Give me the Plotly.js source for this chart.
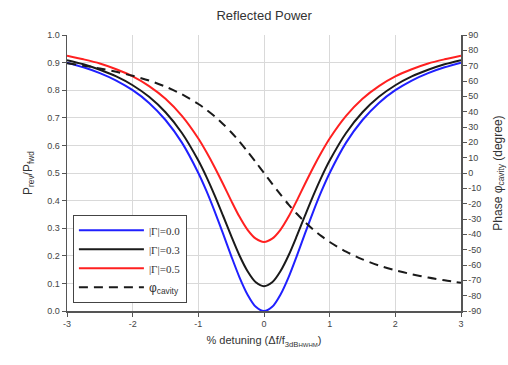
<!DOCTYPE html>
<html>
<head>
<meta charset="utf-8">
<script src="https://cdn.plot.ly/plotly-3.0.1.min.js"></script>
<style>html,body{margin:0;padding:0;background:#fff;}#chart{width:508px;height:365px;}</style>
</head>
<body>
<div id="chart"></div>
<script>
// detuning (Δf / f3dB,HWHM)
const detuning = [-3, -2.75, -2.5, -2.25, -2, -1.75, -1.5, -1.25, -1, -0.875, -0.75, -0.625, -0.5, -0.375, -0.25, -0.125, 0,
                  0.125, 0.25, 0.375, 0.5, 0.625, 0.75, 0.875, 1, 1.25, 1.5, 1.75, 2, 2.25, 2.5, 2.75, 3];
// Prev/Pfwd for |Γ| = 0.0
const gamma00 = [0.900, 0.883, 0.862, 0.835, 0.800, 0.754, 0.692, 0.610, 0.500, 0.434, 0.360, 0.281, 0.200, 0.123, 0.059, 0.015, 0.000,
                 0.015, 0.059, 0.123, 0.200, 0.281, 0.360, 0.434, 0.500, 0.610, 0.692, 0.754, 0.800, 0.835, 0.862, 0.883, 0.900];
// |Γ| = 0.3
const gamma03 = [0.909, 0.894, 0.874, 0.850, 0.818, 0.776, 0.720, 0.645, 0.545, 0.485, 0.418, 0.346, 0.272, 0.202, 0.144, 0.104, 0.090,
                 0.104, 0.144, 0.202, 0.272, 0.346, 0.418, 0.485, 0.545, 0.645, 0.720, 0.776, 0.818, 0.850, 0.874, 0.894, 0.909];
// |Γ| = 0.5
const gamma05 = [0.925, 0.912, 0.897, 0.876, 0.850, 0.815, 0.769, 0.707, 0.625, 0.575, 0.520, 0.461, 0.400, 0.342, 0.294, 0.262, 0.250,
                 0.262, 0.294, 0.342, 0.400, 0.461, 0.520, 0.575, 0.625, 0.707, 0.769, 0.815, 0.850, 0.876, 0.897, 0.912, 0.925];
// cavity phase (degree)
const phaseCavity = [71.6, 70.0, 68.2, 66.0, 63.4, 60.3, 56.3, 51.3, 45.0, 41.2, 36.9, 32.0, 26.6, 20.6, 14.0, 7.1, 0.0,
                     -7.1, -14.0, -20.6, -26.6, -32.0, -36.9, -41.2, -45.0, -51.3, -56.3, -60.3, -63.4, -66.0, -68.2, -70.0, -71.6];

const xTickVals = [-3, -2, -1, 0, 1, 2, 3];
const xTickText = ['-3', '-2', '-1', '0', '1', '2', '3'];
const phaseTickVals = [-90, -80, -70, -60, -50, -40, -30, -20, -10, 0, 10, 20, 30, 40, 50, 60, 70, 80, 90];
const phaseTickText = ['-90', '-80', '-70', '-60', '-50', '-40', '-30', '-20', '-10', '0', '10', '20', '30', '40', '50', '60', '70', '80', '90'];

const seriesNames = ['|Γ|=0.0', '|Γ|=0.3', '|Γ|=0.5'];
const seriesColors = ['#2020ff', '#1a1a1a', '#ff2020'];
const phaseName = '<span style="font-family:Liberation Sans;font-size:12px">φ<sub>cavity</sub></span>';

const serif = "'Liberation Serif', 'DejaVu Serif', serif";
const sans = "'Liberation Sans', Arial, sans-serif";

const powerSeries = [gamma00, gamma03, gamma05];
const traces = powerSeries.map((vals, i) => ({
  x: detuning, y: vals, type: 'scatter', mode: 'lines',
  name: seriesNames[i],
  line: {color: seriesColors[i], width: 2, shape: 'spline', smoothing: 0.8},
  yaxis: 'y'
}));
traces.push({
  x: detuning, y: phaseCavity, type: 'scatter', mode: 'lines',
  name: phaseName,
  line: {color: '#1a1a1a', width: 2, dash: '9px,6px', shape: 'spline', smoothing: 0.8},
  yaxis: 'y2'
});

const axisCommon = {
  showline: true, linecolor: '#555', linewidth: 1.5,
  ticks: 'outside', ticklen: 4, tickcolor: '#555',
  tickfont: {family: sans, size: 9, color: '#444'},
  zeroline: false
};

const layout = {
  width: 508, height: 365,
  margin: {l: 67, r: 47, t: 35, b: 54},
  paper_bgcolor: '#fff', plot_bgcolor: '#fff',
  title: {text: 'Reflected Power', x: 0.52, xanchor: 'center', y: 0.958, yanchor: 'middle',
          font: {family: sans, size: 13, color: '#333'}},
  xaxis: Object.assign({}, axisCommon, {
    range: [-3, 3], tickvals: xTickVals, ticktext: xTickText,
    showgrid: true, gridcolor: '#d9d9d9', gridwidth: 1,
    title: {text: '% detuning (Δf/f<sub>3dB<span style="font-size:6px">HWHM</span></sub>)',
            font: {family: sans, size: 11, color: '#333'}, standoff: 8}
  }),
  yaxis: Object.assign({}, axisCommon, {
    range: [0, 1], dtick: 0.1, tick0: 0, tickformat: '.1f',
    showgrid: true, gridcolor: '#d9d9d9', gridwidth: 1,
    title: {text: 'P<sub>rev</sub>/P<sub>fwd</sub>', font: {family: sans, size: 12, color: '#333'}, standoff: 12}
  }),
  yaxis2: Object.assign({}, axisCommon, {
    overlaying: 'y', side: 'right',
    range: [-90, 90], tickvals: phaseTickVals, ticktext: phaseTickText,
    showgrid: false,
    title: {text: 'Phase φ<sub>cavity</sub> (degree)', font: {family: sans, size: 12, color: '#333'}, standoff: 13}
  }),
  showlegend: true,
  legend: {
    x: 0.015, y: 0.03, xanchor: 'left', yanchor: 'bottom',
    bgcolor: '#fff', bordercolor: '#444', borderwidth: 1,
    font: {family: serif, size: 11, color: '#333'},
    tracegroupgap: 0, itemwidth: 65
  }
};

Plotly.newPlot('chart', traces, layout, {displayModeBar: false, staticPlot: true});
</script>
</body>
</html>
